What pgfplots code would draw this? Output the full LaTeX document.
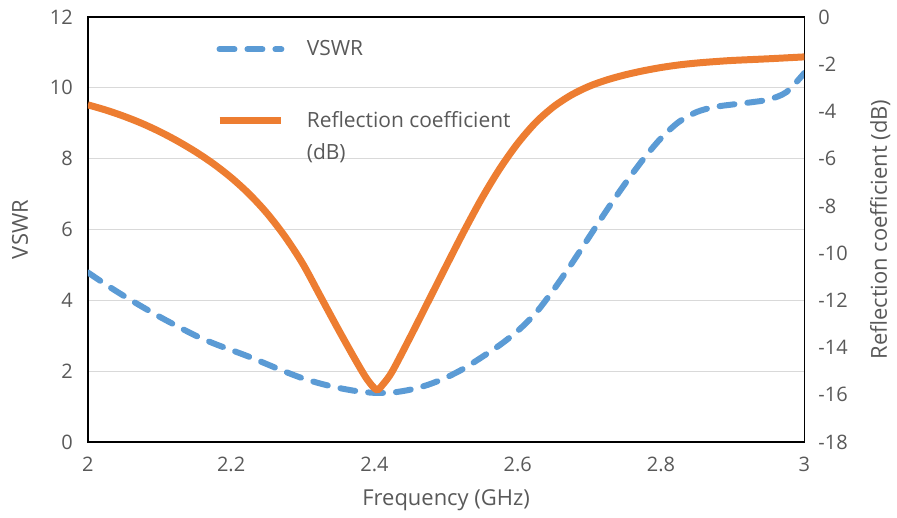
\documentclass[border=0pt]{standalone}
\usepackage{pgfplots}
\pgfplotsset{compat=1.18}
\usepackage{fontspec}
\setmainfont{Open Sans}
\definecolor{vswrblue}{HTML}{5B9BD5}
\definecolor{rcorange}{HTML}{ED7D31}
\definecolor{txtgray}{HTML}{595959}
\definecolor{gridgray}{HTML}{D9D9D9}
\begin{document}
\begin{tikzpicture}
  \pgfplotsset{
    base/.style={
      scale only axis, width=359pt, height=213pt,
      xmin=2, xmax=3,
      major tick length=0pt,
      axis line style={black, line width=0.8pt},
      tick label style={font=\fontsize{10}{12}\selectfont, text=txtgray},
      label style={font=\fontsize{11}{13}\selectfont, text=txtgray},
      /pgf/number format/assume math mode=true,
    },
    vswrline/.style={vswrblue, line width=3pt, line cap=round,
      dash pattern=on 7.5pt off 6.5pt},
  }
  % VSWR, left axis
  \begin{axis}[
    base,
    ymin=0, ymax=12,
    ytick={0,2,4,6,8,10,12},
    ytick pos=left, xtick pos=bottom,
    xtick={2,2.2,2.4,2.6,2.8,3},
    xticklabels={2,2.2,2.4,2.6,2.8,3},
    yticklabel style={xshift=-4pt},
    xticklabel style={yshift=-4pt},
    ymajorgrids, grid style={gridgray, line width=0.6pt},
    xlabel={Frequency (GHz)},
    xlabel style={at={(rel axis cs:0.5,0)}, anchor=center, yshift=-29pt},
    ylabel={VSWR},
    ylabel style={at={(rel axis cs:0,0.5)}, anchor=center, yshift=34pt},
    ]
    \addplot[vswrline, smooth] coordinates {
      (2.000,4.79) (2.025,4.45) (2.050,4.13) (2.075,3.83) (2.100,3.54)
      (2.125,3.27) (2.150,3.01) (2.175,2.79) (2.200,2.60) (2.225,2.41)
      (2.250,2.20) (2.275,1.99) (2.300,1.80) (2.325,1.65) (2.350,1.53)
      (2.375,1.44) (2.400,1.39) (2.425,1.40) (2.450,1.48) (2.475,1.62)
      (2.500,1.82) (2.525,2.08) (2.550,2.40) (2.575,2.74) (2.600,3.14)
      (2.625,3.64) (2.650,4.30) (2.675,5.03) (2.700,5.80) (2.725,6.57)
      (2.750,7.30) (2.775,7.98) (2.800,8.58) (2.825,9.04) (2.850,9.32)
      (2.875,9.46) (2.900,9.53) (2.925,9.59) (2.950,9.67) (2.975,9.88)
      (3.000,10.42)
    };
  \end{axis}
  % Reflection coefficient, right axis
  \begin{axis}[
    base,
    axis x line=none, axis y line*=right,
    ymin=-18, ymax=0,
    ytick={-18,-16,-14,-12,-10,-8,-6,-4,-2,0},
    yticklabels={-18,-16,-14,-12,-10,-8,-6,-4,-2,0},
    yticklabel style={xshift=3.5pt},
    ylabel={Reflection coefficient (dB)},
    ylabel style={at={(rel axis cs:1,0.5)}, anchor=center, yshift=-38pt},
    legend style={at={(0.17,0.965)}, anchor=north west, draw=none,
      fill=none, font=\fontsize{10.5}{12.6}\selectfont, text=txtgray,
      row sep=22pt},
    legend cell align=left,
    legend image code/.code={\draw[#1] (0pt,0pt) -- (31pt,0pt);
      \path (40pt,0pt);},
    ]
    \addlegendimage{vswrline}
    \addlegendentry{VSWR}
    \addplot[rcorange, line width=3.5pt, smooth] coordinates {
      (2.000,-3.72) (2.025,-3.94) (2.050,-4.20) (2.075,-4.50) (2.100,-4.85)
      (2.125,-5.25) (2.150,-5.70) (2.175,-6.21) (2.200,-6.80) (2.225,-7.49)
      (2.250,-8.31) (2.275,-9.29) (2.300,-10.45) (2.325,-11.85) (2.350,-13.25)
      (2.375,-14.60) (2.390,-15.35) (2.403,-15.78) (2.412,-15.55) (2.425,-15.00)
      (2.450,-13.55) (2.475,-12.05) (2.500,-10.55) (2.525,-9.07) (2.550,-7.67)
      (2.575,-6.42) (2.600,-5.35) (2.625,-4.47) (2.650,-3.80) (2.675,-3.30)
      (2.700,-2.93) (2.725,-2.66) (2.750,-2.45) (2.775,-2.28) (2.800,-2.14)
      (2.825,-2.03) (2.850,-1.95) (2.875,-1.89) (2.900,-1.84) (2.950,-1.77)
      (3.000,-1.69)
    };
    \addlegendentry{\begin{tabular}[t]{@{}l@{}}Reflection coefficient\\[3pt](dB)\end{tabular}}
  \end{axis}
  \path (current axis.south west) ++(-44pt,-37.5pt);
  \path (current axis.north east) ++(45.5pt,8.5pt);
\end{tikzpicture}
\end{document}
